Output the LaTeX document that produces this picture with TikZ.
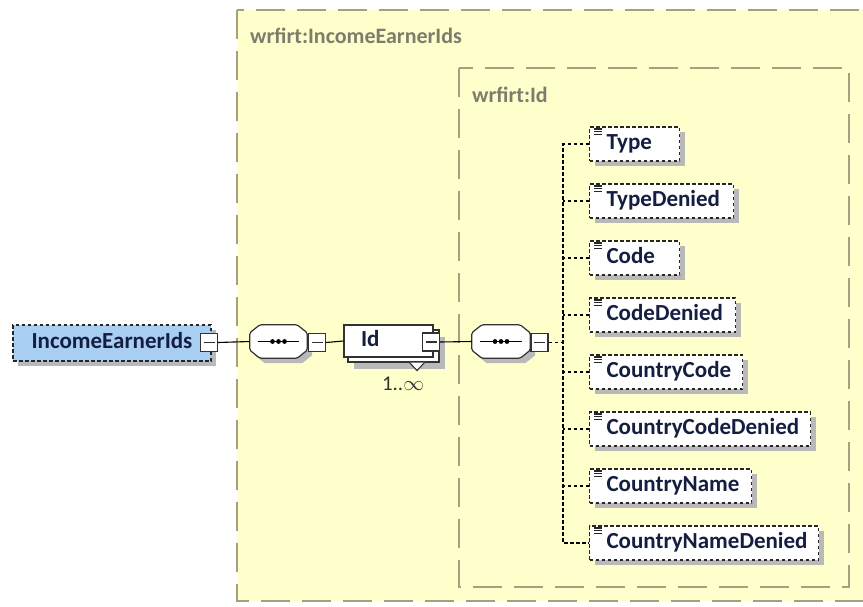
\documentclass[tikz,border=0pt]{standalone}
\usepackage{fontspec}
\setmainfont{Carlito}
\usetikzlibrary{calc,shadows}
\definecolor{yel}{RGB}{255,255,204}
\definecolor{yelborder}{RGB}{165,160,130}
\definecolor{lbl}{RGB}{125,125,110}
\definecolor{blu}{RGB}{168,206,242}
\definecolor{navy}{RGB}{20,30,65}
\definecolor{shad}{RGB}{185,185,185}
\definecolor{edge}{RGB}{50,50,50}
\newcommand\octpath[2]{($(#1.north west)+(10+#2,#2)$) -- ($(#1.north east)+(-10+#2,#2)$) -- ($(#1.north east)+(#2,8+#2)$) -- ($(#1.south east)+(#2,-8+#2)$) -- ($(#1.south east)+(-10+#2,#2)$) -- ($(#1.south west)+(10+#2,#2)$) -- ($(#1.south west)+(#2,-8+#2)$) -- ($(#1.north west)+(#2,8+#2)$) -- cycle}
\newcommand\drawocto[1]{%
  \fill[shad] \octpath{#1}{5};
  \filldraw[draw=edge, fill=white, line width=1.2pt, rounded corners=1.5pt] \octpath{#1}{0};
  \draw[line width=1.1pt] ($(#1.west)+(8,0)$) -- ($(#1.east)+(-8,0)$);
  \foreach \d in {-6,0,6} \fill ($(#1.center)+(\d,0)$) circle (2.4pt);
}
\tikzset{
  yelbox/.style={draw=yelborder, fill=yel, line width=1.4pt, dash pattern=on 29pt off 12pt},
  lbltext/.style={text=lbl, font=\fontsize{22}{26}\selectfont\bfseries, anchor=west, inner sep=0pt},
  boxshadow/.style={drop shadow={shadow xshift=5pt, shadow yshift=-5pt, fill=shad, opacity=1}},
  elem/.style={draw=black!85, fill=white, line width=1.1pt, dash pattern=on 3.5pt off 2.5pt,
    boxshadow, minimum height=34pt, inner xsep=0pt, inner ysep=0pt, text=navy,
    font=\fontsize{23}{27}\selectfont\bfseries, anchor=west, text height=15pt, text depth=5pt},
  childbox/.style={elem, text width=#1, align=left},
  rootbox/.style={elem, fill=blu, minimum width=198pt, minimum height=36pt, anchor=center},
  seqbox/.style={minimum width=#1, minimum height=33pt, inner sep=0pt, draw=none},
  minus/.style={draw=edge, fill=white, line width=1.1pt, minimum width=17pt, minimum height=18pt, inner sep=0pt,
    path picture={\draw[line width=1.1pt] ([xshift=3pt]path picture bounding box.west) -- ([xshift=-3pt]path picture bounding box.east);}},
  idback/.style={draw=edge, fill=white, line width=1.1pt, minimum width=91pt, minimum height=32pt, inner sep=0pt,
    drop shadow={shadow xshift=6pt, shadow yshift=-7pt, fill=shad, opacity=1}},
  idfront/.style={draw=edge, fill=white, line width=1.1pt, minimum height=32pt, inner xsep=0pt, inner ysep=0pt,
    text width=89pt, align=left, text=navy, font=\fontsize{23}{27}\selectfont\bfseries, text height=15pt, text depth=4pt},
  conn/.style={line width=1.1pt, draw=black},
  dconn/.style={line width=1.1pt, draw=black, dash pattern=on 3.5pt off 2.5pt},
  icon/.style={line width=1.1pt, draw=black!85},
}
\newcommand\elicon[1]{%
  \foreach \dy in {2.5,5.2,7.9} \draw[icon] ($(#1.north west)+(5,\dy)$) -- ++(8,0);
}
\begin{document}
\begin{tikzpicture}[x=1pt,y=-1pt]
\useasboundingbox (0,0) rectangle (863,606);
% containers
\draw[yelbox] (237,10) rectangle (900,601);
\node[lbltext] (lblouter) at (250,36) {wrfirt:IncomeEarnerIds};
\draw[yelbox] (459,68) rectangle (849,587);
\node[lbltext] (lblinner) at (472,95) {wrfirt:Id};

% root
\node[rootbox] (root) at (112,343) {IncomeEarnerIds};
\node[minus] (rootm) at (209,342.5) {};

% sequence 1
\node[seqbox=57pt] (s1) at (278.5,341.5) {};
\drawocto{s1}
\node[minus] (s1m) at (317,342.5) {};

% Id
\node[idback] (idb) at (393.5,346) {};
\filldraw[draw=edge, fill=white, line width=1.1pt] ($(idb.south)+(16,0)$) -- ($(idb.south)+(23.5,8)$) -- ($(idb.south)+(31,0)$);
\node[idfront] (id) at (388.5,341) {\hspace*{17pt}Id};
\node[minus] (idm) at (431,342) {};
\node[text=black!80, font=\fontsize{21}{24}\selectfont, inner sep=0pt] (card) at (403,384) {1..$\infty$};

% sequence 2
\node[seqbox=58pt] (s2) at (501,341.5) {};
\drawocto{s2}
\node[minus] (s2m) at (539.5,342.5) {};

% children
\node[childbox=90pt]  (c1) at (589,144) {\hspace*{17pt}Type};
\node[childbox=144pt] (c2) at (589,201) {\hspace*{17pt}TypeDenied};
\node[childbox=90pt]  (c3) at (589,258) {\hspace*{17pt}Code};
\node[childbox=146pt] (c4) at (589,315) {\hspace*{17pt}CodeDenied};
\node[childbox=153pt] (c5) at (589,372) {\hspace*{17pt}CountryCode};
\node[childbox=221pt] (c6) at (589,429) {\hspace*{17pt}CountryCodeDenied};
\node[childbox=162pt] (c7) at (589,486) {\hspace*{17pt}CountryName};
\node[childbox=229pt] (c8) at (589,543) {\hspace*{17pt}CountryNameDenied};
\foreach \c in {c1,c2,c3,c4,c5,c6,c7,c8} {\elicon{\c}}

% connectors
\coordinate (sp) at (563,342.5);
\draw[conn] (rootm.east) -- (s1.west);
\draw[conn] (s1m.east) -- (id.west);
\draw[conn] (idm.east) -- (s2.west);
\draw[dconn] (s2m.east) -- (sp);
\draw[dconn] (c1.west) -- (c1.west -| sp) -- (c8.west -| sp) -- (c8.west);
\foreach \c in {c2,c3,c4,c5,c6,c7} {\draw[dconn] (\c.west) -- (\c.west -| sp);}
\end{tikzpicture}
\end{document}
